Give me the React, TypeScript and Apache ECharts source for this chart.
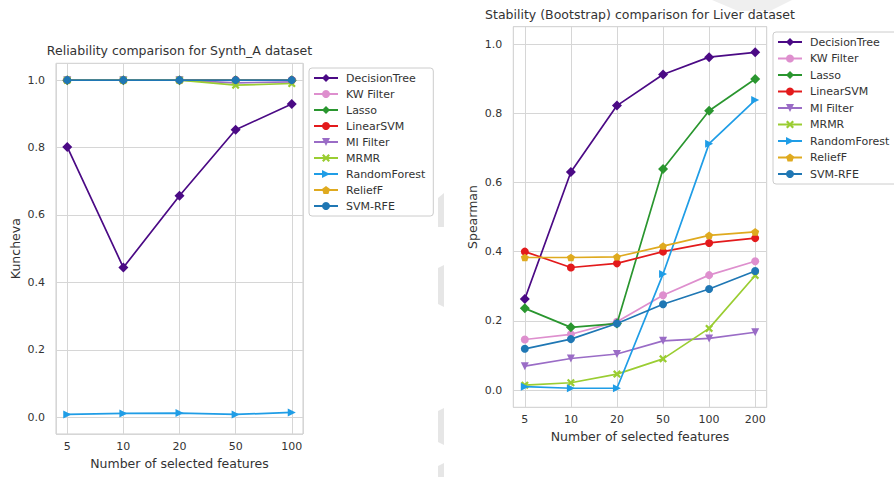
import React, { useEffect, useRef } from "react";
import * as echarts from "echarts";

// Method names (legend order = plotting order)
const methods = [
  "DecisionTree",
  "KW Filter",
  "Lasso",
  "LinearSVM",
  "MI Filter",
  "MRMR",
  "RandomForest",
  "ReliefF",
  "SVM-RFE",
];

// x categories: number of selected features
const synthCats = ["5", "10", "20", "50", "100"];
const liverCats = ["5", "10", "20", "50", "100", "200"];

// Synth_A reliability (Kuncheva index)
const synthDecisionTree = [0.802, 0.444, 0.657, 0.853, 0.929];
const synthKWFilter = [1.0, 1.0, 1.0, 1.0, 1.0];
const synthLasso = [1.0, 1.0, 1.0, 1.0, 1.0];
const synthLinearSVM = [1.0, 1.0, 1.0, 1.0, 1.0];
const synthMIFilter = [1.0, 1.0, 1.0, 0.992, 0.995];
const synthMRMR = [1.0, 1.0, 1.0, 0.985, 0.99];
const synthRandomForest = [0.008, 0.011, 0.012, 0.008, 0.014];
const synthReliefF = [1.0, 1.0, 1.0, 1.0, 1.0];
const synthSVMRFE = [1.0, 1.0, 1.0, 1.0, 1.0];

// Liver bootstrap stability (Spearman)
const liverDecisionTree = [0.263, 0.63, 0.822, 0.912, 0.962, 0.976];
const liverKWFilter = [0.146, 0.161, 0.197, 0.274, 0.332, 0.372];
const liverLasso = [0.236, 0.181, 0.192, 0.639, 0.807, 0.899];
const liverLinearSVM = [0.4, 0.354, 0.366, 0.4, 0.425, 0.439];
const liverMIFilter = [0.069, 0.091, 0.104, 0.142, 0.149, 0.167];
const liverMRMR = [0.014, 0.021, 0.046, 0.09, 0.178, 0.331];
const liverRandomForest = [0.0096, 0.005, 0.005, 0.335, 0.712, 0.838];
const liverReliefF = [0.383, 0.383, 0.385, 0.416, 0.447, 0.457];
const liverSVMRFE = [0.119, 0.147, 0.192, 0.248, 0.292, 0.344];

const synthValues = [
  synthDecisionTree,
  synthKWFilter,
  synthLasso,
  synthLinearSVM,
  synthMIFilter,
  synthMRMR,
  synthRandomForest,
  synthReliefF,
  synthSVMRFE,
];
const liverValues = [
  liverDecisionTree,
  liverKWFilter,
  liverLasso,
  liverLinearSVM,
  liverMIFilter,
  liverMRMR,
  liverRandomForest,
  liverReliefF,
  liverSVMRFE,
];

const colors = [
  "#4b0a85",
  "#de8fce",
  "#2a962f",
  "#e31a1c",
  "#9a6cc6",
  "#9acd32",
  "#1f9de6",
  "#dfaa1f",
  "#1f77b4",
];

const X_PATH = "path://M2,0 L5,3 L8,0 L10,2 L7,5 L10,8 L8,10 L5,7 L2,10 L0,8 L3,5 L0,2 Z";
const PENTAGON_PATH = "path://M5,0 L9.755,3.455 L7.939,9.045 L2.061,9.045 L0.245,3.455 Z";

const markers: { symbol: string; size: number; rotate: number }[] = [
  { symbol: "diamond", size: 10, rotate: 0 },
  { symbol: "circle", size: 8, rotate: 0 },
  { symbol: "diamond", size: 10, rotate: 0 },
  { symbol: "circle", size: 8, rotate: 0 },
  { symbol: "triangle", size: 8, rotate: 180 },
  { symbol: X_PATH, size: 8, rotate: 0 },
  { symbol: "triangle", size: 8, rotate: -90 },
  { symbol: PENTAGON_PATH, size: 8, rotate: 0 },
  { symbol: "circle", size: 8, rotate: 0 },
];

const FONT = "DejaVu Sans";
const TEXT = "#333333";
const GRIDLINE = "#d6d6d6";

function xAxisFor(gridIndex: number, cats: string[]) {
  return {
    type: "value",
    gridIndex,
    min: -0.05 * (cats.length - 1),
    max: (cats.length - 1) * 1.05,
    splitNumber: 5,
    axisLine: { show: false },
    axisTick: { show: false },
    splitLine: { show: true, lineStyle: { color: GRIDLINE, width: 1 } },
    axisLabel: {
      show: true,
      showMinLabel: false,
      showMaxLabel: false,
      margin: 7,
      fontSize: 11,
      fontFamily: FONT,
      color: TEXT,
      formatter: (v: number) =>
        Math.abs(v - Math.round(v)) < 1e-6 && cats[Math.round(v)] !== undefined
          ? cats[Math.round(v)]
          : "",
    },
    name: "Number of selected features",
    nameLocation: "middle",
    nameGap: 23,
    nameTextStyle: { fontSize: 12.5, fontFamily: FONT, color: TEXT },
  };
}

function yAxisFor(gridIndex: number, name: string, nameGap: number) {
  return {
    type: "value",
    gridIndex,
    min: -0.05,
    max: 1.05,
    splitNumber: 5,
    axisLine: { show: false },
    axisTick: { show: false },
    splitLine: { show: true, lineStyle: { color: GRIDLINE, width: 1 } },
    axisLabel: {
      show: true,
      showMinLabel: false,
      showMaxLabel: false,
      margin: 11,
      fontSize: 11,
      fontFamily: FONT,
      color: TEXT,
      formatter: (v: number) => {
        const k = v / 0.2;
        return Math.abs(k - Math.round(k)) < 1e-6 ? v.toFixed(1) : "";
      },
    },
    name,
    nameLocation: "middle",
    nameGap,
    nameTextStyle: { fontSize: 12.5, fontFamily: FONT, color: TEXT },
  };
}

function seriesFor(values: number[][], axisIndex: number) {
  return values.map((vals, k) => ({
    type: "line",
    name: methods[k],
    xAxisIndex: axisIndex,
    yAxisIndex: axisIndex,
    data: vals.map((v, i) => [i, v]),
    symbol: markers[k].symbol,
    symbolSize: markers[k].size,
    symbolRotate: markers[k].rotate,
    symbolKeepAspect: true,
    showAllSymbol: true,
    color: colors[k],
    lineStyle: { width: 1.7, color: colors[k] },
    itemStyle: { color: colors[k] },
    emphasis: { disabled: true },
    z: 3 + k,
  }));
}

function legendAt(left: number, top: number, gap: number) {
  return {
    data: methods,
    orient: "vertical",
    left,
    top,
    itemWidth: 24,
    itemHeight: 10,
    itemGap: gap,
    padding: [4, 8, 4, 4],
    borderColor: "#cccccc",
    borderWidth: 1,
    borderRadius: 3,
    backgroundColor: "#ffffff",
    selectedMode: false,
    textStyle: {
      fontSize: 11,
      fontFamily: FONT,
      color: TEXT,
      lineHeight: 12,
      padding: [0, 0, 0, 3],
    },
  };
}

const smudge = "#e6e6e6";

export default function App() {
  const ref = useRef<HTMLDivElement>(null);

  useEffect(() => {
    if (!ref.current) return;
    const chart = echarts.init(ref.current, undefined, { renderer: "svg" });
    chart.setOption({
      animation: false,
      backgroundColor: "#ffffff",
      textStyle: { fontFamily: FONT },
      title: [
        {
          text: "Reliability comparison for Synth_A dataset",
          left: 179.5,
          top: 44,
          textAlign: "center",
          padding: 0,
          textStyle: { fontSize: 12.5, fontWeight: "normal", fontFamily: FONT, color: TEXT },
        },
        {
          text: "Stability (Bootstrap) comparison for Liver dataset",
          left: 640,
          top: 7.5,
          textAlign: "center",
          padding: 0,
          textStyle: { fontSize: 12.5, fontWeight: "normal", fontFamily: FONT, color: TEXT },
        },
      ],
      grid: [
        {
          left: 56,
          top: 63.3,
          width: 247,
          height: 370.7,
          show: true,
          borderColor: "#cccccc",
          borderWidth: 1,
          backgroundColor: "transparent",
          containLabel: false,
          outerBoundsMode: "none",
        },
        {
          left: 513.3,
          top: 26.7,
          width: 253.4,
          height: 380.6,
          show: true,
          borderColor: "#cccccc",
          borderWidth: 1,
          backgroundColor: "transparent",
          containLabel: false,
          outerBoundsMode: "none",
        },
      ],
      xAxis: [xAxisFor(0, synthCats), xAxisFor(1, liverCats)],
      yAxis: [yAxisFor(0, "Kuncheva", 34), yAxisFor(1, "Spearman", 34)],
      legend: [legendAt(309, 68, 4), legendAt(773, 32, 4.5)],
      series: [...seriesFor(synthValues, 0), ...seriesFor(liverValues, 1)],
      graphic: [
        { type: "polygon", silent: true, z: -1, shape: { points: [[438, 198], [444, 193], [444, 227], [438, 227]] }, style: { fill: smudge } },
        { type: "polygon", silent: true, z: -1, shape: { points: [[438, 268], [444, 265], [444, 307], [438, 304]] }, style: { fill: smudge } },
        { type: "polygon", silent: true, z: -1, shape: { points: [[438, 411], [444, 408], [444, 445], [438, 442]] }, style: { fill: smudge } },
        { type: "polygon", silent: true, z: -1, shape: { points: [[438, 466], [444, 463], [444, 477], [438, 477]] }, style: { fill: smudge } },
        { type: "polygon", silent: true, z: -1, shape: { points: [[712, 0], [792, 0], [770, 11], [738, 11]] }, style: { fill: "#efefef" } },
      ],
    });
    return () => chart.dispose();
  }, []);

  return (
    <div
      ref={ref}
      style={{ position: "absolute", left: 0, top: 0, width: 894, height: 477 }}
    />
  );
}
